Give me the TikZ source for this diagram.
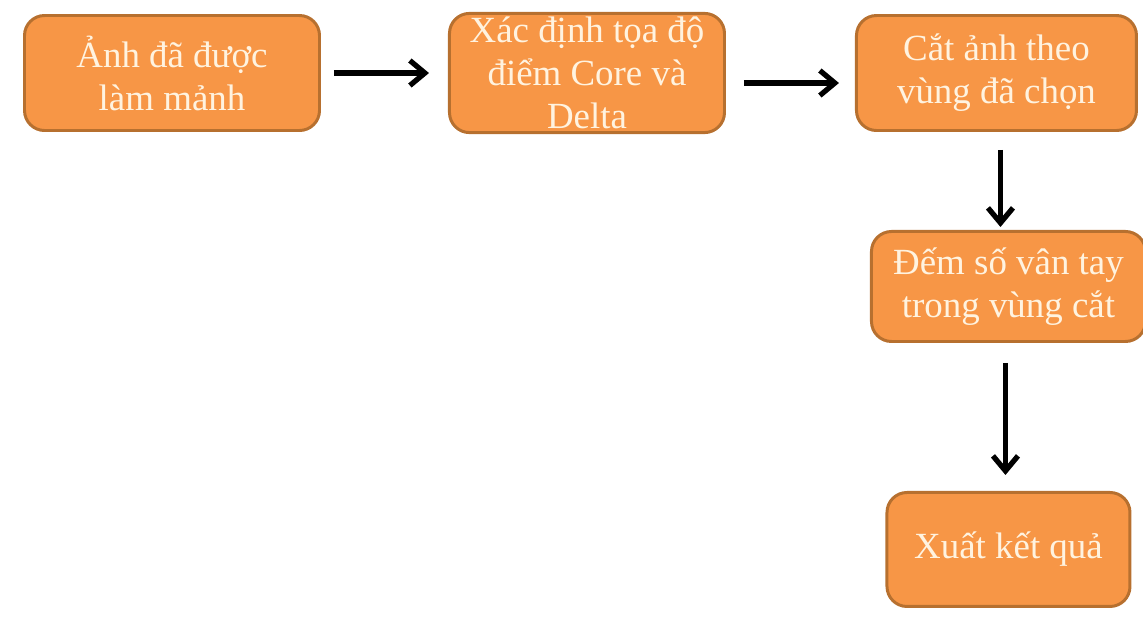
\documentclass[tikz,border=0pt]{standalone}
\usepackage{fontspec}
\setmainfont{Liberation Serif}
\usetikzlibrary{positioning, arrows.meta}
\definecolor{boxfill}{HTML}{F79646}
\definecolor{boxline}{HTML}{B7702F}
\definecolor{boxtext}{HTML}{FFF3E0}

\begin{document}
\begin{tikzpicture}[box/.style={draw=boxline, fill=boxfill, line width=1.7pt, rounded corners=0.4cm, minimum height=2.3cm, text=boxtext, align=center, font=\fontsize{21}{24.5}\selectfont, inner sep=2pt},
  flow/.style={line width=3pt, -{Straight Barb[length=3mm, width=5mm]}}]
\useasboundingbox (0,0) rectangle (22.86,-12.38);
\node[box, minimum width=5.9cm] (A) at (3.44,-1.46) {Ảnh đã được\\làm mảnh};
\node[box, minimum width=5.5cm, right = 2.54cm of A] (B) {Xác định tọa độ\\điểm Core và\\Delta};
\node[box, minimum width=5.6cm, right = 2.58cm of B] (C) {Cắt ảnh theo\\vùng đã chọn};
\node[box, minimum width=5.48cm, minimum height=2.2cm, below = 1.96cm of C, xshift=0.24cm] (D) {Đếm số vân tay\\trong vùng cắt};
\node[box, minimum width=4.86cm, minimum height=2.28cm, below = 2.96cm of D] (E) {Xuất kết quả};
\draw[flow, shorten <=0.26cm, shorten >=0.38cm] (A) -- (B);
\draw[flow, shorten <=0.36cm, shorten >=0.32cm] ([yshift=-0.2cm]B.east) -- ([yshift=-0.2cm]C.west);
\draw[flow, shorten <=0.36cm, shorten >=0.06cm] ([xshift=0.08cm]C.south) -- ([xshift=0.08cm]C.south |- D.north);
\draw[flow, shorten <=0.4cm, shorten >=0.32cm] ([xshift=-0.06cm]D.south) -- ([xshift=-0.06cm]E.north);
\end{tikzpicture}
\end{document}
